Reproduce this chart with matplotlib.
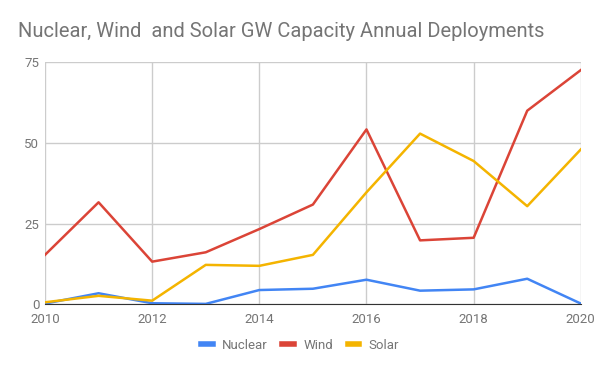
import matplotlib
matplotlib.use("Agg")
import matplotlib.pyplot as plt

# dados
anos = [2010, 2011, 2012, 2013, 2014, 2015, 2016, 2017, 2018, 2019, 2020]
nuclear = [0.2, 3.4, 0.3, 0.1, 4.4, 4.8, 7.6, 4.2, 4.6, 7.9, 0.2]
wind = [15.3, 31.6, 13.2, 16.1, 23.3, 30.9, 54.2, 19.8, 20.6, 60.0, 72.6]
solar = [0.6, 2.6, 1.1, 12.2, 11.9, 15.3, 34.7, 52.9, 44.4, 30.4, 48.0]
xticks = [2010, 2012, 2014, 2016, 2018, 2020]
yticks = [0, 25, 50, 75]

plt.rcParams['font.family'] = ['Roboto', 'DejaVu Sans']
cinza = '#757575'

fig = plt.figure(figsize=(6, 3.71), dpi=100)
ax = fig.add_axes([0.075, 0.18, 0.893, 0.652])

ax.plot(anos, nuclear, color='#4285F4', lw=1.8, label='Nuclear')
ax.plot(anos, wind, color='#DB4437', lw=1.8, label='Wind')
ax.plot(anos, solar, color='#F4B400', lw=1.8, label='Solar')

ax.set_xlim(2010, 2020)
ax.set_ylim(0, 75)
ax.set_xticks(xticks)
ax.set_yticks(yticks)
ax.grid(True, color='#cccccc', lw=1)
ax.set_axisbelow(True)
for s in ['top', 'left', 'right']:
    ax.spines[s].set_visible(False)
ax.spines['bottom'].set_color('#333333')
ax.spines['bottom'].set_zorder(5)
ax.tick_params(length=0, colors=cinza, labelsize=9.5)
ax.tick_params(axis='x', pad=6)
ax.tick_params(axis='y', pad=4)

fig.text(0.03, 0.915, 'Nuclear, Wind  and Solar GW Capacity Annual Deployments',
         fontsize=14.5, color=cinza, va='center')

fig.legend(loc='center', bbox_to_anchor=(0.5, 0.07), ncol=3, frameon=False,
           handlelength=0.9, handletextpad=0.7, columnspacing=1.1,
           fontsize=9.5, labelcolor=cinza)
for h in fig.legends[0].get_lines():
    h.set_linewidth(4)

plt.savefig('out.png', dpi=100)
